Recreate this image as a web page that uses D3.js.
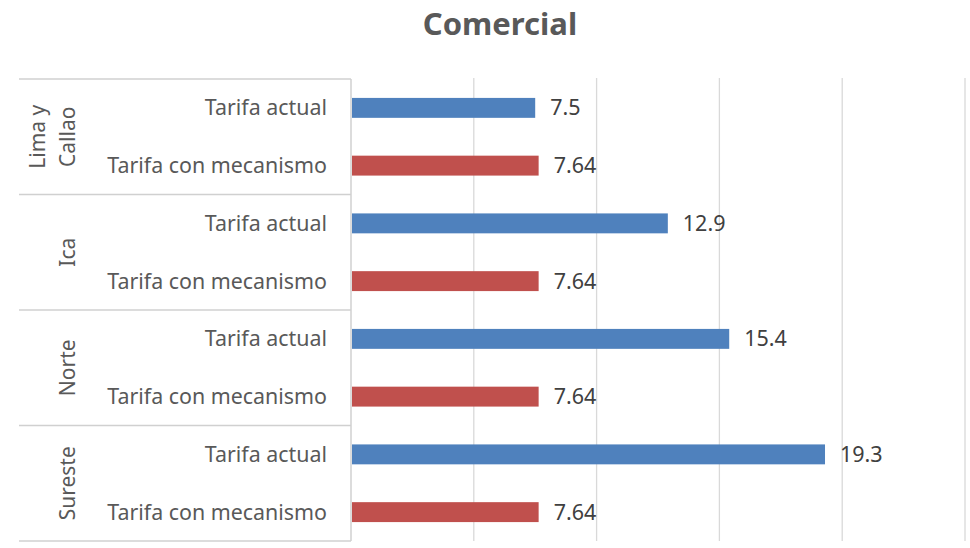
<!DOCTYPE html>
<html><head><meta charset="utf-8">
<script src="https://cdn.jsdelivr.net/npm/d3@7"></script>
<style>body{margin:0;background:#fff}svg{display:block}</style>
</head><body>
<svg id="c" width="970" height="548"></svg>
<script>
const groups = ["Lima y Callao", "Ica", "Norte", "Sureste"];
const groupLines = [["Lima y", "Callao"], ["Ica"], ["Norte"], ["Sureste"]];
const seriesNames = ["Tarifa actual", "Tarifa con mecanismo"];
const tarifaActual = [7.5, 12.9, 15.4, 19.3];
const tarifaMecanismo = [7.64, 7.64, 7.64, 7.64];
const xTicks = [0, 5, 10, 15, 20, 25];

(function () {
const rows = [];
groups.forEach((g, i) => {
  rows.push({key: g + "|0", group: i, series: 0, label: seriesNames[0], value: tarifaActual[i]});
  rows.push({key: g + "|1", group: i, series: 1, label: seriesNames[1], value: tarifaMecanismo[i]});
});

const svg = d3.select("#c");
const font = "'Noto Sans', 'Open Sans', sans-serif";
const textColor = "#595959";
const pL = 351, pR = 965, pT = 79, pB = 541;
const x = d3.scaleLinear().domain([0, 25]).range([pL, pR]);
const p = 0.655;
const y = d3.scaleBand().domain(rows.map(d => d.key)).range([pT, pB]).paddingInner(p).paddingOuter(p / 2);
const colors = ["#4f81bd", "#c0504d"];

svg.append("text").attr("x", 500).attr("y", 35).attr("text-anchor", "middle")
  .attr("font-family", font).attr("font-weight", "bold").attr("font-size", 31)
  .attr("fill", textColor).text("Comercial");

svg.append("g").selectAll("line").data(xTicks.slice(1)).join("line")
  .attr("x1", d => x(d)).attr("x2", d => x(d)).attr("y1", pT - 1).attr("y2", pB)
  .attr("stroke", "#d9d9d9").attr("stroke-width", 1.3);

svg.append("line").attr("x1", pL).attr("x2", pL).attr("y1", pT).attr("y2", pB)
  .attr("stroke", "#d0d0d0").attr("stroke-width", 1.5);

const groupBounds = d3.range(groups.length + 1).map(i => pT + i * (pB - pT) / groups.length);
svg.append("g").selectAll("line").data(groupBounds).join("line")
  .attr("x1", 19).attr("x2", pL).attr("y1", d => d).attr("y2", d => d)
  .attr("stroke", "#d0d0d0").attr("stroke-width", 1.5);

svg.append("g").selectAll("rect").data(rows).join("rect")
  .attr("x", x(0) + 1).attr("y", d => y(d.key))
  .attr("width", d => x(d.value) - x(0) - 1).attr("height", y.bandwidth())
  .attr("fill", d => colors[d.series]);

svg.append("g").selectAll("text").data(rows).join("text")
  .attr("x", d => x(d.value) + 15).attr("y", d => y(d.key) + y.bandwidth() / 2)
  .attr("dy", "0.35em").attr("font-family", font).attr("font-size", 21.5)
  .attr("fill", "#404040").text(d => d.value);

svg.append("g").selectAll("text").data(rows).join("text")
  .attr("x", 327).attr("y", d => y(d.key) + y.bandwidth() / 2)
  .attr("dy", "0.35em").attr("text-anchor", "end").attr("font-family", font).attr("font-size", 21.4)
  .attr("fill", textColor).text(d => d.label);

groupLines.forEach((lines, i) => {
  const cy = (groupBounds[i] + groupBounds[i + 1]) / 2;
  const n = lines.length;
  lines.forEach((t, j) => {
    const cx = 68 - (n - 1 - j) * 30;
    svg.append("text").attr("transform", `translate(${cx},${cy}) rotate(-90)`)
      .attr("text-anchor", "middle").attr("dy", "0.35em")
      .attr("font-family", font).attr("font-size", 21).attr("fill", textColor).text(t);
  });
});
})();
</script>
</body></html>
